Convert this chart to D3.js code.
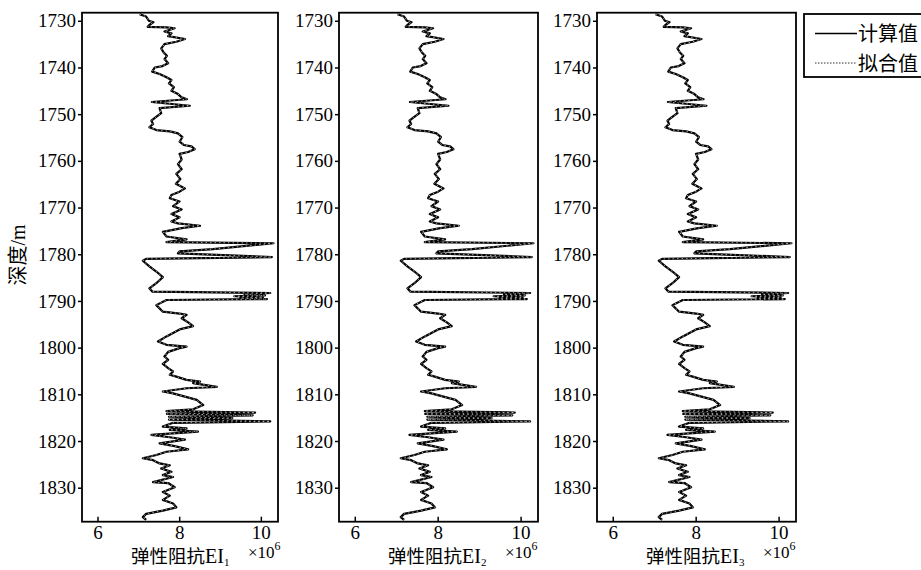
<!DOCTYPE html>
<html>
<head>
<meta charset="utf-8">
<script src="https://cdn.jsdelivr.net/npm/d3@7"></script>
<style>
  body { margin: 0; background: #fff; }
  svg { display: block; }
</style>
</head>
<body>
<svg id="chart" width="921" height="570"></svg>
<script>
// Depth axis ticks (m) and elastic-impedance ticks (×10^6)
const depthTicks = [1730, 1740, 1750, 1760, 1770, 1780, 1790, 1800, 1810, 1820, 1830];
const eiTicks = [6, 8, 10];
const panelSubscripts = ["1", "2", "3"];
const legendLabels = ["计算值", "拟合值"];

// Sampled depths (m)
const depth = [
  1728.6, 1729.1, 1730.0, 1730.3, 1730.9, 1731.3, 1731.4, 1731.6, 1732.3, 1732.7,
  1733.3, 1733.9, 1734.5, 1735.0, 1735.9, 1736.8, 1737.5, 1738.2, 1739.1, 1739.7,
  1740.0, 1740.9, 1741.4, 1742.1, 1742.7, 1743.4, 1744.2, 1745.0, 1745.7, 1746.4,
  1746.8, 1747.4, 1748.2, 1748.7, 1749.8, 1750.7, 1751.4, 1752.1, 1752.8, 1753.4,
  1753.7, 1754.1, 1754.9, 1755.9, 1756.6, 1756.9, 1757.5, 1758.1, 1758.5, 1759.7,
  1760.7, 1761.8, 1762.8, 1763.9, 1764.9, 1765.9, 1766.6, 1767.3, 1768.0, 1768.7,
  1769.7, 1770.4, 1771.4, 1772.1, 1773.0, 1773.4, 1773.9, 1774.4, 1775.2, 1776.2,
  1776.8, 1777.4, 1777.65, 1778.9, 1779.4, 1779.8, 1780.6, 1781.0, 1781.4, 1782.6,
  1783.7, 1784.9, 1786.2, 1787.3, 1788.0, 1788.3, 1788.6, 1788.8, 1789.0, 1789.2,
  1789.4, 1789.6, 1789.8, 1790.9, 1792.3, 1792.7, 1793.0, 1793.7, 1794.6, 1795.4,
  1796.1, 1797.6, 1798.7, 1799.4, 1799.8, 1800.1, 1800.9, 1801.9, 1802.6, 1803.5,
  1804.4, 1805.1, 1805.8, 1806.2, 1806.9, 1807.3, 1807.6, 1808.4, 1808.7, 1809.4,
  1809.8, 1810.5, 1811.2, 1812.3, 1813.2, 1813.6, 1813.9, 1814.2, 1814.5, 1814.8,
  1815.1, 1815.4, 1815.8, 1816.1, 1816.9, 1817.3, 1817.6, 1818.0, 1818.7, 1819.2,
  1819.7, 1820.5, 1821.1, 1821.8, 1822.3, 1823.0, 1823.7, 1824.1, 1824.8, 1825.2,
  1825.9, 1826.6, 1827.3, 1827.7, 1828.8, 1829.0, 1829.9, 1830.9, 1831.7, 1832.6,
  1833.4, 1834.2, 1834.9, 1835.6, 1836.3, 1836.9
];

// Computed elastic impedance (×10^6) at each depth
const eiComputed = [
  7.03, 7.19, 7.26, 7.37, 7.27, 7.23, 7.69, 7.89, 7.64, 7.81,
  7.73, 8.14, 7.93, 7.64, 7.56, 7.62, 7.70, 7.64, 7.73, 7.59,
  7.40, 7.34, 7.52, 7.69, 7.81, 7.75, 7.87, 7.81, 7.97, 8.06,
  8.19, 7.33, 8.26, 7.52, 7.56, 7.42, 7.32, 7.36, 7.27, 7.44,
  7.77, 7.97, 8.08, 8.01, 8.11, 8.30, 8.38, 8.22, 8.01, 8.06,
  7.97, 8.06, 7.93, 8.03, 7.92, 8.14, 8.01, 7.81, 7.77, 8.01,
  7.85, 8.06, 7.81, 8.01, 7.81, 7.97, 8.51, 8.06, 7.60, 7.69,
  8.18, 7.69, 10.31, 8.83, 8.01, 7.97, 10.27, 7.19, 7.11, 7.27,
  7.44, 7.60, 7.44, 7.27, 7.34, 10.23, 9.60, 10.10, 9.35, 10.05,
  9.50, 10.15, 7.69, 7.44, 7.60, 8.01, 8.18, 8.06, 8.22, 8.34,
  8.01, 7.69, 7.48, 7.69, 8.18, 8.01, 7.73, 7.64, 7.73, 7.60,
  7.73, 7.85, 7.77, 7.93, 8.18, 8.51, 8.34, 8.92, 8.18, 7.60,
  7.85, 8.14, 8.43, 8.59, 8.34, 7.69, 9.86, 7.70, 9.80, 7.75,
  9.30, 7.75, 10.23, 7.85, 7.60, 8.18, 7.77, 8.46, 7.32, 7.77,
  8.14, 7.52, 7.89, 8.22, 7.69, 7.44, 7.11, 7.36, 7.52, 7.77,
  7.56, 7.81, 7.60, 7.85, 7.36, 7.73, 7.89, 7.60, 7.77, 7.60,
  7.85, 7.93, 7.60, 7.19, 7.11, 7.19
];

// Fitted elastic impedance overlaps the computed curve
const eiFitted = eiComputed;

// ---- layout ----
const svg = d3.select("#chart");
const serif = "'Liberation Serif', 'Times New Roman', 'DejaVu Serif', serif";
const cjk = "'Noto Sans CJK SC', sans-serif";
const plotTop = 12.7, plotBottom = 521.7;
const panelBounds = [[82, 278], [339, 538], [597, 796]];

const y = d3.scaleLinear().domain([1728.27, 1837.28]).range([plotTop, plotBottom]);

panelBounds.forEach(([left, right], i) => {
  const x = d3.scaleLinear().domain([5.62, 10.42]).range([left, right]);
  const g = svg.append("g");

  const pts = depth.map((d, k) => [d, eiComputed[k], eiFitted[k]]);

  const calcLine = d3.line().x(p => x(p[1])).y(p => y(p[0]));
  const fitLine = d3.line().x(p => x(p[2])).y(p => y(p[0]));

  g.append("path").datum(pts)
    .attr("d", calcLine)
    .attr("fill", "none").attr("stroke", "#000")
    .attr("stroke-width", 2.2).attr("stroke-linejoin", "round");
  g.append("path").datum(pts)
    .attr("d", fitLine)
    .attr("fill", "none").attr("stroke", "#c8c8c8")
    .attr("stroke-width", 0.8).attr("stroke-dasharray", "1.5,3");

  // left depth axis (outward ticks)
  const yAxis = g.append("g").attr("transform", `translate(${left},0)`)
    .call(d3.axisLeft(y).tickValues(depthTicks).tickSize(4).tickPadding(2).tickFormat(d3.format("d")));
  yAxis.select(".domain").remove();
  yAxis.selectAll("line").attr("stroke", "#000").attr("stroke-width", 1.5);
  yAxis.selectAll("text").style("font-family", serif).style("font-size", "19px").attr("fill", "#000");

  // bottom impedance axis (inward ticks)
  const xAxis = g.append("g").attr("transform", `translate(0,${plotBottom})`)
    .call(d3.axisBottom(x).tickValues(eiTicks).tickSizeInner(-5).tickSizeOuter(0)
      .tickPadding(4).tickFormat(d3.format("d")));
  xAxis.select(".domain").remove();
  xAxis.selectAll("line").attr("stroke", "#000").attr("stroke-width", 1.5);
  xAxis.selectAll("text").style("font-family", serif).style("font-size", "19px").attr("fill", "#000");

  // frame
  g.append("rect")
    .attr("x", left).attr("y", plotTop)
    .attr("width", right - left).attr("height", plotBottom - plotTop)
    .attr("fill", "none").attr("stroke", "#000").attr("stroke-width", 1.8);

  // axis title
  const t = g.append("text").attr("x", left + 49).attr("y", 563).attr("fill", "#000");
  t.append("tspan").style("font-family", cjk).style("font-size", "18.5px").text("弹性阻抗");
  t.append("tspan").style("font-family", serif).style("font-size", "20px").text("EI");
  t.append("tspan").style("font-family", serif).style("font-size", "11px").attr("dy", 3).text(panelSubscripts[i]);

  // scale factor
  const s = g.append("text").attr("x", left + 166).attr("y", 558).attr("fill", "#000")
    .style("font-family", serif);
  s.append("tspan").style("font-size", "17px").text("×10");
  s.append("tspan").style("font-size", "12px").attr("dy", -8).text("6");
});

// depth title
svg.append("text")
  .attr("transform", "translate(25,255) rotate(-90)")
  .attr("text-anchor", "middle").attr("fill", "#000")
  .call(t => {
    t.append("tspan").style("font-family", cjk).style("font-size", "20px").text("深度");
    t.append("tspan").style("font-family", serif).style("font-size", "20px").text("/m");
  });

// legend
const lg = svg.append("g");
lg.append("rect").attr("x", 804).attr("y", 14).attr("width", 140).attr("height", 63)
  .attr("fill", "#fff").attr("stroke", "#000").attr("stroke-width", 1.8);
const legendStyles = [
  { color: "#000", width: 1.6, dash: null },
  { color: "#777", width: 1.3, dash: "1.5,1.5" }
];
const legendY = [33.5, 63];
legendLabels.forEach((lab, i) => {
  lg.append("line").attr("x1", 815).attr("x2", 857)
    .attr("y1", legendY[i]).attr("y2", legendY[i])
    .attr("stroke", legendStyles[i].color).attr("stroke-width", legendStyles[i].width)
    .attr("stroke-dasharray", legendStyles[i].dash);
  lg.append("text").attr("x", 858).attr("y", legendY[i] - 1)
    .attr("dominant-baseline", "central")
    .style("font-family", cjk).style("font-size", "20px").attr("fill", "#000").text(lab);
});
</script>
</body>
</html>
